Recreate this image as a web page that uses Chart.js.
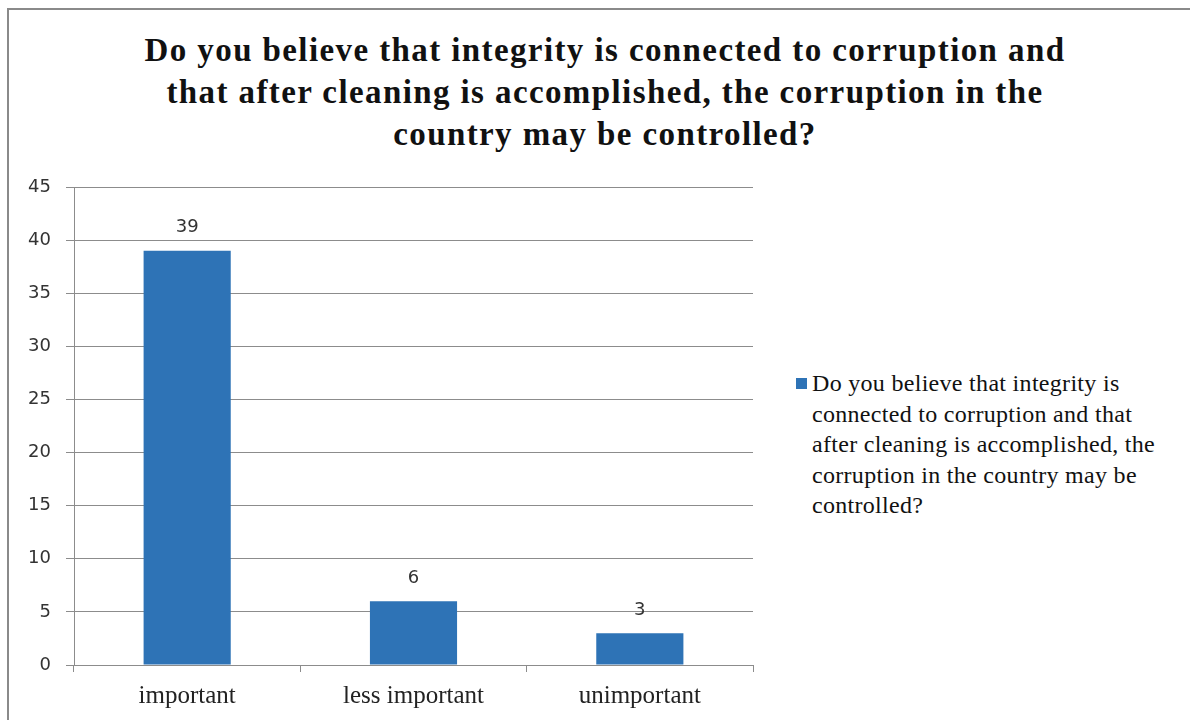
<!DOCTYPE html>
<html>
<head>
<meta charset="utf-8">
<script src="https://cdn.jsdelivr.net/npm/chart.js@4.4.1/dist/chart.umd.min.js"></script>
<style>
  html, body { margin: 0; padding: 0; background: #fff; }
  #wrap { position: relative; width: 1190px; height: 720px; overflow: hidden; background: #fff; }
  #frame { position: absolute; left: 7px; top: 8px; width: 1200px; height: 730px;
           border-top: 2px solid #8a8a8a; border-left: 2px solid #8a8a8a; box-sizing: border-box; }
  #title { position: absolute; left: 0; top: 29px; width: 1210px; text-align: center;
           font-family: "Liberation Serif", "Times New Roman", serif; font-weight: bold;
           font-size: 33px; letter-spacing: 1.4px; line-height: 42px; color: #111; }
  #chartBox { position: absolute; left: 0; top: 160px; width: 770px; height: 560px; }
  #legend { position: absolute; left: 796px; top: 368px; width: 394px;
            font-family: "Liberation Serif", "Times New Roman", serif; font-size: 24px;
            letter-spacing: 0.3px; line-height: 30.5px; color: #111; }
  #legend .sw { position: absolute; left: 0; top: 10px; width: 11px; height: 11px; }
  #legend .tx { margin-left: 16px; width: 366px; }
</style>
</head>
<body>
<div id="wrap">
  <div id="frame"></div>
  <div id="title"></div>
  <div id="chartBox"><canvas id="c" width="770" height="560"></canvas></div>
  <div id="legend"></div>
</div>
<script>
const TITLE_LINES = [
  "Do you believe that integrity is connected to corruption and",
  "that after cleaning is accomplished, the corruption in the",
  "country may be controlled?"
];
const CATEGORIES = ["important", "less important", "unimportant"];
const SERIES_LABEL = "Do you believe that integrity is connected to corruption and that after cleaning is accomplished, the corruption in the country may be controlled?";
const SERIES_VALUES = [39, 6, 3];
const Y_MIN = 0, Y_MAX = 45, Y_STEP = 5;
const BAR_COLOR = "#2e73b6";

document.getElementById('title').innerHTML = TITLE_LINES.map(s => s.replace(/&/g,'&amp;')).join('<br>');

const valueLabels = {
  id: 'valueLabels',
  afterDatasetsDraw(chart) {
    const ctx = chart.ctx;
    ctx.save();
    ctx.font = '18px "DejaVu Sans", sans-serif';
    ctx.fillStyle = '#333';
    ctx.textAlign = 'center';
    ctx.textBaseline = 'middle';
    chart.data.datasets.forEach((ds, di) => {
      chart.getDatasetMeta(di).data.forEach((bar, i) => {
        ctx.fillText(String(ds.data[i]), bar.x, bar.y - 23);
      });
    });
    ctx.restore();
  }
};

const chart = new Chart(document.getElementById('c'), {
  type: 'bar',
  data: {
    labels: CATEGORIES,
    datasets: [{
      label: SERIES_LABEL,
      data: SERIES_VALUES,
      backgroundColor: BAR_COLOR,
      borderWidth: 0,
      categoryPercentage: 1.0,
      barPercentage: 0.385
    }]
  },
  options: {
    responsive: false,
    animation: false,
    layout: { padding: { top: 27, right: 17, left: 0, bottom: 0 } },
    plugins: {
      legend: { display: false },
      title: { display: false },
      tooltip: { enabled: false }
    },
    scales: {
      y: {
        min: Y_MIN, max: Y_MAX,
        ticks: {
          stepSize: Y_STEP, color: '#333', padding: 15,
          font: { family: '"DejaVu Sans", sans-serif', size: 18 }
        },
        grid: { color: '#8c8c8c', lineWidth: 1, tickLength: 8, drawTicks: true },
        border: { display: true, color: '#8c8c8c', width: 1 },
        afterFit(scale) { scale.width = 74; }
      },
      x: {
        ticks: {
          color: '#222', padding: 9,
          font: { family: '"Liberation Serif", "Times New Roman", serif', size: 25 }
        },
        grid: { display: true, drawOnChartArea: false, drawTicks: true, tickLength: 7, color: '#8c8c8c', offset: true },
        border: { display: true, color: '#8c8c8c', width: 1 },
        afterFit(scale) { scale.height = 55; }
      }
    }
  },
  plugins: [valueLabels]
});

// HTML legend built from the chart's dataset
const leg = document.getElementById('legend');
chart.data.datasets.forEach(ds => {
  const sw = document.createElement('div');
  sw.className = 'sw';
  sw.style.background = ds.backgroundColor;
  const tx = document.createElement('div');
  tx.className = 'tx';
  tx.textContent = ds.label;
  leg.appendChild(sw);
  leg.appendChild(tx);
});
</script>
</body>
</html>
